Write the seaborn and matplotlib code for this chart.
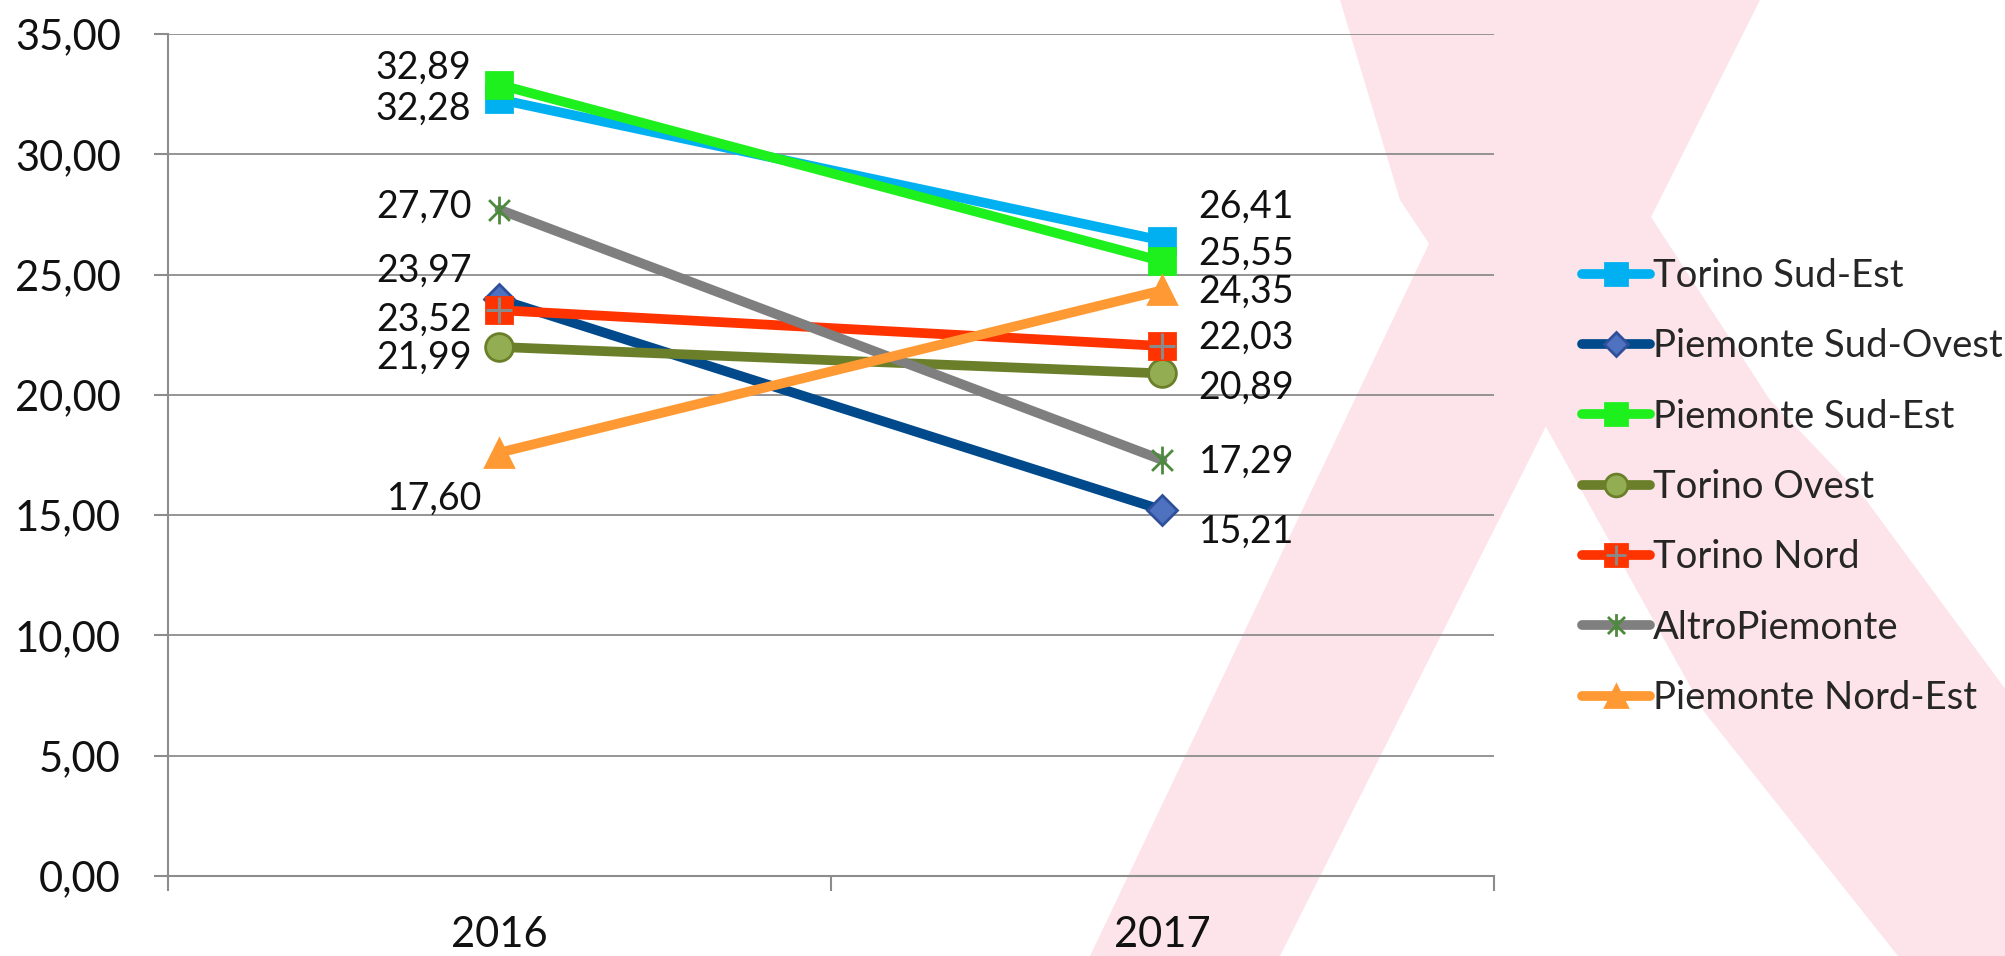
import matplotlib
matplotlib.use("Agg")
import matplotlib.pyplot as plt
import seaborn as sns
from matplotlib.lines import Line2D
from matplotlib.patches import Polygon
from matplotlib.path import Path

# dati
anni = ["2016", "2017"]
torino_sud_est = [32.28, 26.41]
piemonte_sud_ovest = [23.97, 15.21]
piemonte_sud_est = [32.89, 25.55]
torino_ovest = [21.99, 20.89]
torino_nord = [23.52, 22.03]
altro_piemonte = [27.70, 17.29]
piemonte_nord_est = [17.60, 24.35]

nomi = ["Torino Sud-Est", "Piemonte Sud-Ovest", "Piemonte Sud-Est", "Torino Ovest",
        "Torino Nord", "AltroPiemonte", "Piemonte Nord-Est"]
serie = [torino_sud_est, piemonte_sud_ovest, piemonte_sud_est, torino_ovest,
         torino_nord, altro_piemonte, piemonte_nord_est]

y_ticks = [0, 5, 10, 15, 20, 25, 30, 35]
y_labels = ["0,00", "5,00", "10,00", "15,00", "20,00", "25,00", "30,00", "35,00"]

# marker asterisco (x + verticale)
asterisco = Path([(0, -1), (0, 1), (-0.75, -0.75), (0.75, 0.75), (-0.75, 0.75), (0.75, -0.75)],
                 [Path.MOVETO, Path.LINETO] * 3)

stili = {
    "Torino Sud-Est": dict(color="#00b0f0", marker="s", mfc="#00b0f0", mec="#00b0f0", ms=19),
    "Piemonte Sud-Ovest": dict(color="#004a8c", marker="D", mfc="#4f72c0", mec="#2f4f9a", ms=15),
    "Piemonte Sud-Est": dict(color="#1ef01e", marker="s", mfc="#1ef01e", mec="#1ef01e", ms=19),
    "Torino Ovest": dict(color="#6b7f2a", marker="o", mfc="#93ae52", mec="#6b7f2a", ms=20),
    "Torino Nord": dict(color="#ff3300", marker="s", mfc="#ff3300", mec="#ff3300", ms=19),
    "AltroPiemonte": dict(color="#7f7f7f", marker=asterisco, mfc="none", mec="#4e8a3e", ms=20),
    "Piemonte Nord-Est": dict(color="#ff9933", marker="^", mfc="#ff9933", mec="#ff9933", ms=20),
}

# posizione etichette (pixel rispetto al punto)
offset_2016 = {"Torino Sud-Est": (-28, -9), "Piemonte Sud-Ovest": (-28, 29),
               "Piemonte Sud-Est": (-28, 17), "Torino Ovest": (-28, -11),
               "Torino Nord": (-28, -10), "AltroPiemonte": (-28, 3),
               "Piemonte Nord-Est": (-17, -46)}
offset_2017 = {"Torino Sud-Est": (36, 34), "Piemonte Sud-Ovest": (36, -22),
               "Piemonte Sud-Est": (36, 8), "Torino Ovest": (36, -14),
               "Torino Nord": (36, 8), "AltroPiemonte": (36, -2),
               "Piemonte Nord-Est": (36, -2)}

sns.set_theme(style="white")
plt.rcParams["font.family"] = ["Lato", "DejaVu Sans"]

W, H = 2006, 956
fig = plt.figure(figsize=(W / 100, H / 100), dpi=100)
fig.patch.set_facecolor("white")

# sfondo: X rosa
rosa = "#fce4ea"
striscia1 = [(1545, 0), (1760, 0), (1280, 956), (1090, 956)]
striscia2 = [(1340, 0), (1560, 0), (1640, 200), (1770, 400), (1866, 500), (2006, 690),
             (2006, 956), (1898, 956), (1705, 713), (1520, 380), (1400, 200)]
for s in (striscia1, striscia2):
    fig.add_artist(Polygon([(x / W, 1 - y / H) for x, y in s], closed=True,
                           facecolor=rosa, edgecolor="none", zorder=-1,
                           transform=fig.transFigure))

ax = fig.add_axes([168 / W, 1 - 876 / H, (1494 - 168) / W, (876 - 34) / H])
ax.set_facecolor("none")

handles = []
for nome, vals in zip(nomi, serie):
    st = stili[nome]
    sns.lineplot(x=anni, y=vals, ax=ax, color=st["color"], lw=7, marker=st["marker"],
                 markersize=st["ms"], markerfacecolor=st["mfc"], markeredgecolor=st["mec"],
                 markeredgewidth=2, legend=False, zorder=3)
    voce = Line2D([], [], color=st["color"], lw=7, solid_capstyle="round",
                  marker=st["marker"], markersize=st["ms"] * 0.82,
                  markerfacecolor=st["mfc"], markeredgecolor=st["mec"], markeredgewidth=2)
    if nome == "Torino Nord":
        sns.lineplot(x=anni, y=vals, ax=ax, linestyle="", marker="+", markersize=19,
                     markeredgecolor="#8a8a8a", markeredgewidth=2.2, legend=False, zorder=4)
        croce = Line2D([], [], linestyle="", marker="+", markersize=15,
                       markeredgecolor="#8a8a8a", markeredgewidth=2)
        handles.append((voce, croce))
    else:
        handles.append(voce)

    for i, v in enumerate(vals):
        off = offset_2016[nome] if i == 0 else offset_2017[nome]
        ax.annotate(f"{v:.2f}".replace(".", ","), (i, v), xytext=off,
                    textcoords="offset pixels", ha="right" if i == 0 else "left",
                    va="center", fontsize=27, color="#111111", zorder=6)

ax.set_xlim(-0.5, 1.5)
ax.set_ylim(0, 35)
ax.set_yticks(y_ticks)
ax.set_yticklabels(y_labels)
ax.set_xticks([-0.5, 0.5, 1.5])
ax.set_xticklabels([])
ax.set_xticks([0, 1], labels=anni, minor=True)

grigio = "#8c8c8c"
ax.yaxis.grid(True, color=grigio, lw=1.3)
ax.xaxis.grid(False)
ax.set_axisbelow(True)
for lato in ("top", "right"):
    ax.spines[lato].set_visible(False)
for lato in ("left", "bottom"):
    ax.spines[lato].set_color(grigio)
    ax.spines[lato].set_linewidth(1.5)

ax.tick_params(axis="y", which="major", left=True, length=10, width=1.5, color=grigio,
               pad=24, labelsize=30, labelcolor="#111111")
ax.tick_params(axis="x", which="major", bottom=True, length=11, width=1.5, color=grigio)
ax.tick_params(axis="x", which="minor", bottom=True, length=0, pad=29,
               labelsize=30, labelcolor="#111111")
ax.set_xlabel("")
ax.set_ylabel("")

fig.legend(handles, nomi, loc="center left", bbox_to_anchor=(1582 / W, 1 - 487 / H),
           frameon=False, fontsize=27.5, handlelength=1.78, handletextpad=0.08,
           labelspacing=0.9, borderpad=0, borderaxespad=0)

fig.savefig("out.png", dpi=100)
